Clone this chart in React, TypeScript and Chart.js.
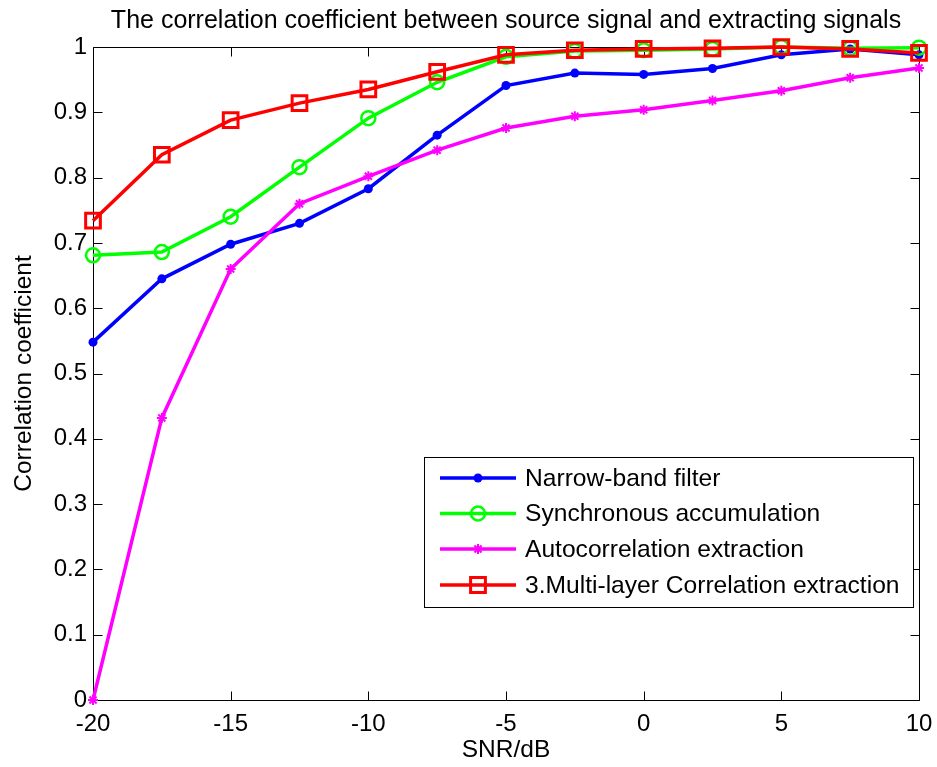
import { useEffect, useRef } from 'react';
import { Chart, registerables } from 'chart.js';

Chart.register(...registerables);

// SNR levels (dB) at which each method was evaluated
const snr = [-20, -17.5, -15, -12.5, -10, -7.5, -5, -2.5, 0, 2.5, 5, 7.5, 10];

// Correlation coefficient between source signal and extracted signal, per method
const narrowBand = [0.548, 0.645, 0.698, 0.730, 0.783, 0.865, 0.941, 0.960, 0.958, 0.967, 0.988, 0.997, 0.988];
const syncAccum = [0.681, 0.686, 0.740, 0.816, 0.891, 0.946, 0.985, 0.994, 0.995, 0.997, 1.0, 0.998, 0.999];
const autoCorr = [0.0, 0.432, 0.660, 0.760, 0.802, 0.842, 0.876, 0.894, 0.904, 0.918, 0.933, 0.953, 0.968];
const multiLayer = [0.734, 0.835, 0.888, 0.914, 0.935, 0.962, 0.988, 0.995, 0.997, 0.998, 1.0, 0.997, 0.991];

const seriesNames = [
  'Narrow-band filter',
  'Synchronous accumulation',
  'Autocorrelation extraction',
  '3.Multi-layer Correlation extraction',
];

const xTicks = [-20, -15, -10, -5, 0, 5, 10];
const xTickLabels = ['-20', '-15', '-10', '-5', '0', '5', '10'];
const yTicks = [0, 0.1, 0.2, 0.3, 0.4, 0.5, 0.6, 0.7, 0.8, 0.9, 1];
const yTickLabels = ['0', '0.1', '0.2', '0.3', '0.4', '0.5', '0.6', '0.7', '0.8', '0.9', '1'];

const titleText = 'The correlation coefficient between source signal and extracting signals';
const xTitle = 'SNR/dB';
const yTitle = 'Correlation coefficient';

const FONT = '"Liberation Sans", Arial, Helvetica, sans-serif';
const BLUE = '#0000ff';
const GREEN = '#00ff00';
const MAGENTA = '#ff00ff';
const RED = '#ff0000';

type MarkerKind = 'dot' | 'circle' | 'star' | 'square';

const seriesStyle: { color: string; marker: MarkerKind }[] = [
  { color: BLUE, marker: 'dot' },
  { color: GREEN, marker: 'circle' },
  { color: MAGENTA, marker: 'star' },
  { color: RED, marker: 'square' },
];

function drawMarker(ctx: CanvasRenderingContext2D, kind: MarkerKind, color: string, x: number, y: number) {
  ctx.save();
  ctx.strokeStyle = color;
  ctx.fillStyle = color;
  ctx.beginPath();
  if (kind === 'dot') {
    ctx.arc(x, y, 4.5, 0, Math.PI * 2);
    ctx.fill();
  } else if (kind === 'circle') {
    ctx.lineWidth = 2.5;
    ctx.arc(x, y, 7, 0, Math.PI * 2);
    ctx.stroke();
  } else if (kind === 'star') {
    ctx.lineWidth = 2;
    const r = 5;
    const d = r * Math.SQRT1_2;
    ctx.moveTo(x - r, y); ctx.lineTo(x + r, y);
    ctx.moveTo(x, y - r); ctx.lineTo(x, y + r);
    ctx.moveTo(x - d, y - d); ctx.lineTo(x + d, y + d);
    ctx.moveTo(x - d, y + d); ctx.lineTo(x + d, y - d);
    ctx.stroke();
  } else {
    ctx.lineWidth = 3;
    ctx.rect(x - 7.4, y - 7.4, 14.8, 14.8);
    ctx.stroke();
  }
  ctx.restore();
}

// Axes box with inward tick marks on all four sides
const axesFrame = {
  id: 'axesFrame',
  beforeDatasetsDraw(chart: any) {
    const { ctx, chartArea: a, scales } = chart;
    const len = 9;
    ctx.save();
    ctx.strokeStyle = '#000';
    ctx.lineWidth = 1;
    const l = Math.round(a.left) + 0.5;
    const r = Math.round(a.right) + 0.5;
    const t = Math.round(a.top) + 0.5;
    const b = Math.round(a.bottom) + 0.5;
    ctx.beginPath();
    ctx.rect(l, t, r - l, b - t);
    for (const v of xTicks) {
      const px = Math.round(scales.x.getPixelForValue(v)) + 0.5;
      ctx.moveTo(px, b); ctx.lineTo(px, b - len);
      ctx.moveTo(px, t); ctx.lineTo(px, t + len);
    }
    for (const v of yTicks) {
      const py = Math.round(scales.y.getPixelForValue(v)) + 0.5;
      ctx.moveTo(l, py); ctx.lineTo(l + len, py);
      ctx.moveTo(r, py); ctx.lineTo(r - len, py);
    }
    ctx.stroke();
    ctx.restore();
  },
};

// Title, axis titles and the boxed legend inside the plot
const annotations = {
  id: 'annotations',
  afterDatasetsDraw(chart: any) {
    const { ctx, chartArea: a } = chart;
    const cx = (a.left + a.right) / 2;
    const cy = (a.top + a.bottom) / 2;
    ctx.save();
    ctx.fillStyle = '#000';
    ctx.font = `25px ${FONT}`;
    ctx.textAlign = 'center';
    ctx.textBaseline = 'alphabetic';
    ctx.fillText(titleText, cx, 28);
    ctx.font = `24.5px ${FONT}`;
    ctx.fillText(xTitle, cx, 757);
    ctx.save();
    ctx.translate(31, cy);
    ctx.rotate(-Math.PI / 2);
    ctx.fillText(yTitle, 0, 0);
    ctx.restore();

    // legend
    const bx = 424.5, by = 457.5, bw = 489, bh = 150;
    ctx.fillStyle = '#fff';
    ctx.fillRect(bx, by, bw, bh);
    ctx.strokeStyle = '#000';
    ctx.lineWidth = 1;
    ctx.strokeRect(bx, by, bw, bh);
    const rows = [478, 513.5, 549, 585];
    seriesNames.forEach((name, i) => {
      const y = rows[i];
      const st = seriesStyle[i];
      ctx.strokeStyle = st.color;
      ctx.lineWidth = 3.5;
      ctx.beginPath();
      ctx.moveTo(440, y);
      ctx.lineTo(516, y);
      ctx.stroke();
      drawMarker(ctx, st.marker, st.color, 478, y);
      ctx.fillStyle = '#000';
      ctx.textAlign = 'left';
      ctx.textBaseline = 'middle';
      ctx.font = `24.6px ${FONT}`;
      ctx.fillText(name, 525, y + 1);
    });
    ctx.restore();
  },
};

function toPoints(values: number[]) {
  return snr.map((x, i) => ({ x, y: values[i] }));
}

export default function App() {
  const canvasRef = useRef<HTMLCanvasElement | null>(null);

  useEffect(() => {
    const canvas = canvasRef.current;
    if (!canvas) return;
    const common = {
      borderWidth: 3.5,
      showLine: true,
      clip: false as const,
      tension: 0,
    };
    const chart = new Chart(canvas, {
      type: 'line',
      data: {
        datasets: [
          {
            ...common,
            label: seriesNames[0],
            data: toPoints(narrowBand),
            borderColor: BLUE,
            backgroundColor: BLUE,
            pointStyle: 'circle',
            pointRadius: 4.5,
            pointBorderWidth: 0,
            pointBackgroundColor: BLUE,
            order: 3,
          },
          {
            ...common,
            label: seriesNames[1],
            data: toPoints(syncAccum),
            borderColor: GREEN,
            pointStyle: 'circle',
            pointRadius: 7,
            pointBorderWidth: 2.5,
            pointBorderColor: GREEN,
            pointBackgroundColor: 'rgba(0,0,0,0)',
            order: 2,
          },
          {
            ...common,
            label: seriesNames[2],
            data: toPoints(autoCorr),
            borderColor: MAGENTA,
            pointStyle: 'star',
            pointRadius: 5,
            pointBorderWidth: 2,
            pointBorderColor: MAGENTA,
            pointBackgroundColor: MAGENTA,
            order: 1,
          },
          {
            ...common,
            label: seriesNames[3],
            data: toPoints(multiLayer),
            borderColor: RED,
            pointStyle: 'rect',
            pointRadius: 10.4,
            pointBorderWidth: 3,
            pointBorderColor: RED,
            pointBackgroundColor: 'rgba(0,0,0,0)',
            order: 0,
          },
        ],
      },
      options: {
        responsive: false,
        animation: false,
        devicePixelRatio: 1,
        layout: { padding: { top: 47, right: 18, left: 0, bottom: 0 } },
        plugins: {
          legend: { display: false },
          title: { display: false },
          tooltip: { enabled: false },
        },
        scales: {
          x: {
            type: 'linear',
            min: -20,
            max: 10,
            grid: { display: false, drawTicks: false },
            border: { display: false },
            afterBuildTicks: (s: any) => {
              s.ticks = xTicks.map((value) => ({ value }));
            },
            afterFit: (s: any) => {
              s.height = 67;
              s.paddingLeft = 0;
              s.paddingRight = 0;
            },
            ticks: {
              autoSkip: false,
              maxRotation: 0,
              padding: 10,
              color: '#000',
              font: { family: FONT, size: 24 },
              callback: (_v: any, i: number) => xTickLabels[i],
            },
          },
          y: {
            type: 'linear',
            min: 0,
            max: 1,
            grid: { display: false, drawTicks: false },
            border: { display: false },
            afterBuildTicks: (s: any) => {
              s.ticks = yTicks.map((value) => ({ value }));
            },
            afterFit: (s: any) => {
              s.width = 93;
              s.paddingTop = 0;
              s.paddingBottom = 0;
            },
            ticks: {
              autoSkip: false,
              padding: 6,
              color: '#000',
              font: { family: FONT, size: 24 },
              callback: (_v: any, i: number) => yTickLabels[i],
            },
          },
        },
      },
      plugins: [axesFrame, annotations],
    });
    return () => chart.destroy();
  }, []);

  return (
    <div style={{ position: 'fixed', left: 0, top: 0, width: 937, height: 767, background: '#fff' }}>
      <canvas ref={canvasRef} width={937} height={767} style={{ display: 'block' }} />
    </div>
  );
}
